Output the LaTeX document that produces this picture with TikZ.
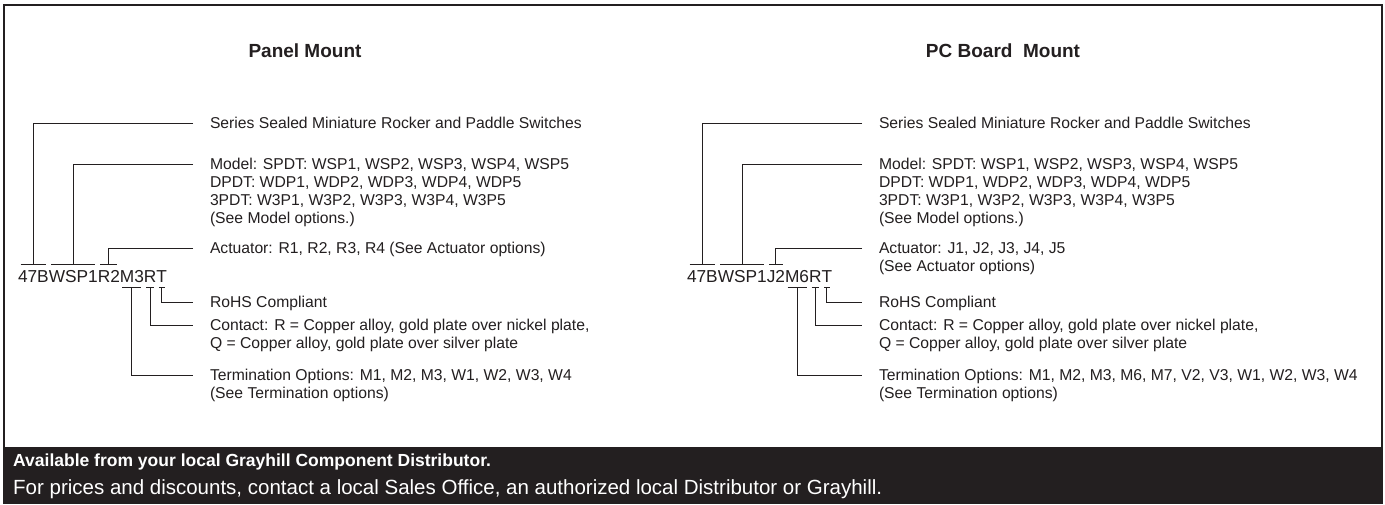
\documentclass[tikz,border=0pt]{standalone}
\usepackage{fontspec}
\setmainfont{Liberation Sans}
\usetikzlibrary{calc}
\definecolor{ink}{HTML}{231F20}
\newcommand\labfont{\fontsize{15.7}{18}\selectfont}
\newcommand\codefont{\fontsize{17.3}{20}\selectfont}
\newcommand\titlefont{\fontsize{19}{22}\selectfont\bfseries}
\newcommand\ml[1]{\begin{tabular}[t]{@{}l@{}}#1\end{tabular}}
\tikzset{
  lbl/.style={anchor=base west, inner sep=0pt, outer sep=0pt, font=\labfont, text=ink},
  codeseg/.style={anchor=base west, inner sep=0pt, outer sep=0pt, font=\codefont, text=ink},
  conn/.style={draw=ink, line width=1pt},
  ttl/.style={inner sep=0pt, font=\titlefont, text=ink},
  bandtxt/.style={anchor=base west, inner sep=0pt, text=white}
}
\begin{document}
\begin{tikzpicture}[x=1pt,y=-1pt]
\useasboundingbox (0,0) rectangle (1385,504);
\fill[white] (0,0) rectangle (1385,504);
% frame and band
\draw[ink, line width=2pt] (4,5) rectangle (1382,503);
\fill[ink] (3,447) rectangle (1383,504);
\node[bandtxt, font=\fontsize{17.5}{21}\selectfont\bfseries] (band1) at (13,466) {Available from your local Grayhill Component Distributor.};
\node[bandtxt, font=\fontsize{20.5}{24}\selectfont] (band2) at (13,494.5) {For prices and discounts, contact a local Sales Office, an authorized local Distributor or Grayhill.};
% titles
\node[ttl] (t1) at (305,51) {Panel Mount};
\node[ttl] (t2) at (1003,51) {PC Board\ \ Mount};

% ---------- left panel ----------
\node[codeseg] (a1) at (18,282) {47B};
\node[codeseg] (a2) at (a1.base east) {WSP1};
\node[codeseg] (a3) at (a2.base east) {R2};
\node[codeseg] (a4) at (a3.base east) {M3};
\node[codeseg] (a5) at (a4.base east) {R};
\node[codeseg] (a6) at (a5.base east) {T};

\node[lbl] (aS) at (210,128.5) {Series Sealed Miniature Rocker and Paddle Switches};
\node[lbl] (aM) at (210,169.5) {\ml{Model: SPDT: WSP1, WSP2, WSP3, WSP4, WSP5\\DPDT: WDP1, WDP2, WDP3, WDP4, WDP5\\3PDT: W3P1, W3P2, W3P3, W3P4, W3P5\\(See Model options.)}};
\node[lbl] (aA) at (210,253.5) {Actuator: R1, R2, R3, R4 (See Actuator options)};
\node[lbl] (aR) at (210,307.5) {RoHS Compliant};
\node[lbl] (aC) at (210,330.5) {\ml{Contact: R = Copper alloy, gold plate over nickel plate,\\Q = Copper alloy, gold plate over silver plate}};
\node[lbl] (aT) at (210,380.5) {\ml{Termination Options: M1, M2, M3, W1, W2, W3, W4\\(See Termination options)}};

\foreach \s in {a1,a2,a3} {
  \draw[conn] ($(\s.base west)+(2.5,-18)$) -- ($(\s.base east)+(-2.5,-18)$);
}
\foreach \s in {a4,a5,a6} {
  \draw[conn] ($(\s.base west)+(2.5,5.7)$) -- ($(\s.base east)+(-2.5,5.7)$);
}
\draw[conn] ($(aS.base west)+(-17,-5.5)$) -| ($(a1.base)+(0,-18)$);
\draw[conn] ($(aM.base west)+(-17,-5.5)$) -| ($(a2.base)+(0,-18)$);
\draw[conn] ($(aA.base west)+(-17,-5.5)$) -| ($(a3.base)+(0,-18)$);
\draw[conn] ($(a6.base)+(0,5.7)$) |- ($(aR.base west)+(-17,-5.5)$);
\draw[conn] ($(a5.base)+(0,5.7)$) |- ($(aC.base west)+(-17,-5.5)$);
\draw[conn] ($(a4.base)+(0,5.7)$) |- ($(aT.base west)+(-17,-5.5)$);

% ---------- right panel ----------
\node[codeseg] (b1) at (687,282) {47B};
\node[codeseg] (b2) at (b1.base east) {WSP1};
\node[codeseg] (b3) at (b2.base east) {J2};
\node[codeseg] (b4) at (b3.base east) {M6};
\node[codeseg] (b5) at (b4.base east) {R};
\node[codeseg] (b6) at (b5.base east) {T};

\node[lbl] (bS) at (879,128.5) {Series Sealed Miniature Rocker and Paddle Switches};
\node[lbl] (bM) at (879,169.5) {\ml{Model: SPDT: WSP1, WSP2, WSP3, WSP4, WSP5\\DPDT: WDP1, WDP2, WDP3, WDP4, WDP5\\3PDT: W3P1, W3P2, W3P3, W3P4, W3P5\\(See Model options.)}};
\node[lbl] (bA) at (879,253.5) {\ml{Actuator: J1, J2, J3, J4, J5\\(See Actuator options)}};
\node[lbl] (bR) at (879,307.5) {RoHS Compliant};
\node[lbl] (bC) at (879,330.5) {\ml{Contact: R = Copper alloy, gold plate over nickel plate,\\Q = Copper alloy, gold plate over silver plate}};
\node[lbl] (bT) at (879,380.5) {\ml{Termination Options: M1, M2, M3, M6, M7, V2, V3, W1, W2, W3, W4\\(See Termination options)}};

\foreach \s in {b1,b2,b3} {
  \draw[conn] ($(\s.base west)+(2.5,-18)$) -- ($(\s.base east)+(-2.5,-18)$);
}
\foreach \s in {b4,b5,b6} {
  \draw[conn] ($(\s.base west)+(2.5,5.7)$) -- ($(\s.base east)+(-2.5,5.7)$);
}
\draw[conn] ($(bS.base west)+(-17,-5.5)$) -| ($(b1.base)+(0,-18)$);
\draw[conn] ($(bM.base west)+(-17,-5.5)$) -| ($(b2.base)+(0,-18)$);
\draw[conn] ($(bA.base west)+(-17,-5.5)$) -| ($(b3.base)+(0,-18)$);
\draw[conn] ($(b6.base)+(0,5.7)$) |- ($(bR.base west)+(-17,-5.5)$);
\draw[conn] ($(b5.base)+(0,5.7)$) |- ($(bC.base west)+(-17,-5.5)$);
\draw[conn] ($(b4.base)+(0,5.7)$) |- ($(bT.base west)+(-17,-5.5)$);
\end{tikzpicture}
\end{document}
